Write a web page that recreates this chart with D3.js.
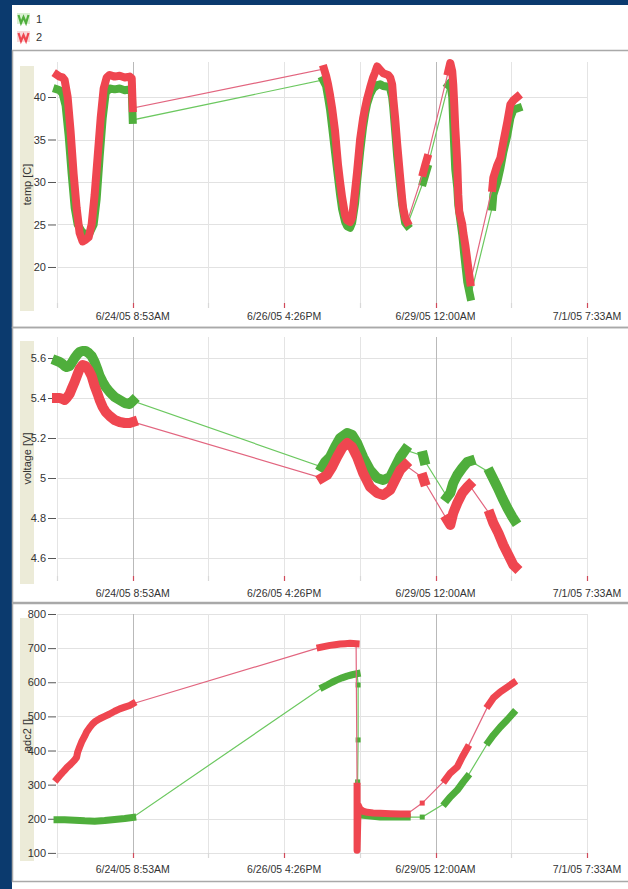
<!DOCTYPE html>
<html>
<head>
<meta charset="utf-8">
<script src="https://cdn.jsdelivr.net/npm/d3@7"></script>
<style>
  body { margin: 0; background: #0b3a6e; }
  text { font-family: "Liberation Sans", Arial, sans-serif; fill: #333; }
</style>
</head>
<body>
<div id="chart"></div>
<script>
// x values are June 2005 days (24.370 = 6/24/05 8:53AM)
const xTickLabels = ["6/24/05 8:53AM", "6/26/05 4:26PM", "6/29/05 12:00AM", "7/1/05 7:33AM"];
const xTickDays = [24.370, 26.685, 29.000, 31.315];
const xStartDay = 23.2125;

const seriesNames = ["1", "2"];

// temp [C]  - each series is a list of runs of [day, value]
const tempTicks = [20, 25, 30, 35, 40];
const temp1 = [
  [[23.213,40.9],[23.252,40.8],[23.298,40.4],[23.344,39.0],[23.390,35.5],[23.436,31.0],[23.482,27.0],[23.528,25.0],[23.589,24.2],[23.650,23.8],[23.711,24.0],[23.773,25.0],[23.819,28.0],[23.865,33.0],[23.911,37.5],[23.957,40.5],[24.018,41.0],[24.094,40.9],[24.171,41.0],[24.248,40.8],[24.324,40.9],[24.355,40.8],[24.370,37.3]],
  [[27.280,42.0],[27.326,41.3],[27.356,40.0],[27.387,38.5],[27.418,36.5],[27.463,33.5],[27.509,30.5],[27.540,28.5],[27.571,26.8],[27.617,25.3],[27.647,24.8],[27.693,24.6],[27.724,25.2],[27.770,27.5],[27.800,30.0],[27.846,33.5],[27.892,36.5],[27.923,38.0],[27.954,39.2],[27.999,40.3],[28.045,41.0],[28.107,41.4],[28.153,41.5],[28.199,41.3],[28.275,41.2],[28.306,41.0],[28.336,40.0],[28.352,38.8],[28.382,36.0],[28.413,33.0],[28.459,29.5],[28.489,27.3],[28.535,25.2],[28.566,24.9]],
  [[28.811,30.0],[28.842,30.8],[28.872,31.6]],
  [[29.194,41.4],[29.225,41.7],[29.255,40.0],[29.270,37.0],[29.286,34.0],[29.301,31.5],[29.332,29.3],[29.347,27.3],[29.408,23.8],[29.439,21.4],[29.485,18.2],[29.531,16.5]],
  [[29.868,27.1],[29.883,28.5],[29.944,30.0],[29.990,31.6],[30.036,33.5],[30.097,35.5],[30.143,37.5],[30.189,38.5],[30.265,38.7]]
];
const temp2 = [
  [[23.213,42.6],[23.252,42.4],[23.298,42.3],[23.329,42.0],[23.375,40.0],[23.420,36.0],[23.466,31.0],[23.512,27.0],[23.558,24.0],[23.604,23.0],[23.650,23.2],[23.696,23.5],[23.742,25.0],[23.788,28.5],[23.834,33.0],[23.880,37.5],[23.926,41.0],[23.972,42.3],[24.018,42.6],[24.094,42.4],[24.171,42.5],[24.248,42.3],[24.324,42.4],[24.355,42.2],[24.370,38.7]],
  [[27.295,43.3],[27.326,42.5],[27.356,41.5],[27.387,40.2],[27.418,38.7],[27.463,36.0],[27.509,32.0],[27.540,30.0],[27.571,28.2],[27.617,26.1],[27.647,25.5],[27.693,25.3],[27.724,25.8],[27.770,29.0],[27.800,31.2],[27.846,35.0],[27.892,37.5],[27.923,38.7],[27.954,39.8],[27.999,41.1],[28.045,42.3],[28.076,42.9],[28.107,43.6],[28.153,43.2],[28.199,42.8],[28.275,42.6],[28.306,42.3],[28.336,41.5],[28.352,39.9],[28.382,37.5],[28.413,34.5],[28.459,30.5],[28.489,28.0],[28.505,26.9],[28.535,25.8],[28.566,25.3]],
  [[28.811,31.1],[28.842,32.0],[28.872,32.8]],
  [[29.194,43.0],[29.225,44.0],[29.255,43.0],[29.270,41.5],[29.286,39.0],[29.301,36.4],[29.316,34.4],[29.332,32.0],[29.347,28.5],[29.362,26.5],[29.408,25.0],[29.424,24.0],[29.454,22.6],[29.485,20.8],[29.500,19.9],[29.531,18.2]],
  [[29.868,29.3],[29.883,30.5],[29.944,32.0],[29.990,32.8],[30.036,34.7],[30.097,37.1],[30.143,39.1],[30.189,39.6],[30.250,40.0]]
];

// voltage [V]
const voltTicks = [4.6, 4.8, 5, 5.2, 5.4, 5.6];
const volt1 = [
  [[23.213,5.585],[23.252,5.58],[23.298,5.57],[23.329,5.56],[23.359,5.555],[23.405,5.56],[23.436,5.575],[23.482,5.60],[23.528,5.62],[23.558,5.63],[23.604,5.635],[23.650,5.635],[23.696,5.625],[23.742,5.61],[23.788,5.58],[23.834,5.54],[23.865,5.51],[23.911,5.48],[23.957,5.455],[24.018,5.43],[24.094,5.405],[24.171,5.39],[24.248,5.375],[24.324,5.37],[24.370,5.385]],
  [[27.264,5.055],[27.310,5.08],[27.387,5.105],[27.463,5.155],[27.540,5.20],[27.647,5.225],[27.724,5.215],[27.800,5.175],[27.892,5.105],[27.999,5.04],[28.107,5.00],[28.199,4.99],[28.306,5.005],[28.382,5.055],[28.459,5.105],[28.535,5.14]],
  [[28.811,5.11],[28.826,5.09]],
  [[29.178,4.905],[29.225,4.925],[29.270,4.975],[29.332,5.015],[29.408,5.05],[29.485,5.08],[29.531,5.085]],
  [[29.837,5.025],[29.868,5.005],[29.944,4.955],[30.021,4.90],[30.097,4.85],[30.174,4.805],[30.204,4.79]]
];
const volt2 = [
  [[23.213,5.40],[23.252,5.40],[23.298,5.395],[23.329,5.39],[23.359,5.40],[23.405,5.42],[23.436,5.445],[23.482,5.48],[23.528,5.52],[23.558,5.545],[23.604,5.565],[23.650,5.56],[23.696,5.54],[23.742,5.51],[23.788,5.46],[23.834,5.42],[23.865,5.39],[23.911,5.355],[23.957,5.33],[24.018,5.31],[24.094,5.29],[24.171,5.28],[24.248,5.275],[24.324,5.275],[24.370,5.28]],
  [[27.264,5.00],[27.341,5.015],[27.418,5.055],[27.494,5.105],[27.571,5.15],[27.647,5.175],[27.724,5.155],[27.800,5.105],[27.892,5.025],[27.999,4.955],[28.107,4.925],[28.199,4.915],[28.306,4.94],[28.382,4.99],[28.459,5.04],[28.535,5.065]],
  [[28.811,5.00],[28.826,4.985]],
  [[29.178,4.79],[29.225,4.765],[29.270,4.825],[29.332,4.875],[29.408,4.925],[29.485,4.955],[29.515,4.965]],
  [[29.837,4.815],[29.883,4.775],[29.960,4.725],[30.036,4.665],[30.113,4.615],[30.189,4.565],[30.220,4.555]]
];

// adc2 []
const adcTicks = [100, 200, 300, 400, 500, 600, 700, 800];
const adc1 = [
  [[23.213,197],[23.329,197],[23.482,196],[23.635,194],[23.788,193],[23.941,195],[24.094,198],[24.248,201],[24.370,204]],
  [[27.280,586],[27.341,592],[27.418,600],[27.494,607],[27.571,613],[27.647,618],[27.724,622],[27.800,625]],
  [[27.816,592]],
  [[27.816,431]],
  [[27.808,308]],
  [[27.816,212],[27.892,210],[28.153,205],[28.566,205]],
  [[28.796,205]],
  [[29.148,246],[29.225,264],[29.332,284],[29.424,308],[29.485,323]],
  [[29.807,425],[29.883,445],[29.990,469],[30.097,490],[30.189,510]]
];
const adc2 = [
  [[23.213,317],[23.252,326],[23.298,336],[23.329,342],[23.359,349],[23.405,357],[23.451,366],[23.482,372],[23.512,380],[23.528,395],[23.558,410],[23.589,425],[23.635,442],[23.665,454],[23.711,467],[23.757,478],[23.803,486],[23.865,493],[23.941,500],[24.018,507],[24.094,515],[24.171,522],[24.248,527],[24.324,532],[24.370,537]],
  [[27.234,702],[27.310,705],[27.387,708],[27.463,710],[27.540,712],[27.617,713],[27.693,714],[27.785,713]],
  [[27.800,295],[27.800,108],[27.816,240],[27.846,228],[27.892,222],[27.954,219],[28.045,217],[28.153,216],[28.306,215],[28.459,214],[28.566,214]],
  [[28.796,246]],
  [[29.148,314],[29.225,334],[29.332,352],[29.408,381],[29.485,407]],
  [[29.807,533],[29.883,554],[29.990,572],[30.097,586],[30.189,598]]
];

const dayToDate = d => new Date(Date.UTC(2005, 5, 1) + (d - 1) * 864e5);

const width = 628;
const height = 889;
const plotLeft = 57;
const plotRight = 587;
const colors = {
  dense: ["#4fae3c", "#ef4650"],
  thin: ["#6cc860", "#e2657f"],
  icon: ["#d9f0d2", "#f8d9da"]
};

const panels = [
  { label: "temp [C]", ticks: tempTicks, domain: [15.29, 44.12], top: 62, bottom: 307,
    frame: [50, 327], labelY: 320, thick: 8, series: [temp1, temp2] },
  { label: "voltage [V]", ticks: voltTicks, domain: [4.49, 5.705], top: 337, bottom: 580,
    frame: [327, 602], labelY: 597, thick: 10, series: [volt1, volt2] },
  { label: "adc2 []", ticks: adcTicks, domain: [88, 800], top: 614, bottom: 857,
    frame: [603, 881], labelY: 873, thick: 7, series: [adc1, adc2] }
];

const svg = d3.select("#chart")
  .append("svg")
  .attr("width", width)
  .attr("height", height);

svg.append("rect").attr("width", width).attr("height", height).attr("fill", "#0b3a6e");
svg.append("rect").attr("x", 12).attr("y", 5).attr("width", width - 12).attr("height", height - 5).attr("fill", "#ffffff");

const x = d3.scaleUtc()
  .domain([dayToDate(xStartDay), dayToDate(xTickDays[xTickDays.length - 1])])
  .range([plotLeft, plotRight]);

const gridDays = d3.range(8).map(i => xStartDay + i * (xTickDays[3] - xStartDay) / 7);

// legend
seriesNames.forEach((name, i) => {
  const g = svg.append("g").attr("transform", `translate(17,${13 + i * 18})`);
  g.append("rect").attr("width", 13).attr("height", 11).attr("fill", colors.icon[i]);
  g.append("polyline")
    .attr("points", "1.5,2 4,10 6.5,4 9,10 11.5,2")
    .attr("fill", "none").attr("stroke", colors.dense[i]).attr("stroke-width", 2.2);
  g.append("text").attr("x", 19).attr("y", 10).attr("font-size", 11).text(name);
});

panels.forEach(p => {
  const y = d3.scaleLinear().domain(p.domain).range([p.bottom, p.top]);
  const g = svg.append("g");

  // frame
  g.append("rect")
    .attr("x", 12.5).attr("y", p.frame[0] + 0.5)
    .attr("width", width).attr("height", p.frame[1] - p.frame[0])
    .attr("fill", "none").attr("stroke", "#a9a9a9").attr("stroke-width", 1.5);

  // y label strip
  g.append("rect")
    .attr("x", 20).attr("y", p.top + 4)
    .attr("width", 14).attr("height", p.bottom - p.top)
    .attr("fill", "#ecebd8");
  g.append("text")
    .attr("transform", `translate(31,${(p.top + p.bottom) / 2}) rotate(-90)`)
    .attr("text-anchor", "middle")
    .attr("font-size", 11)
    .text(p.label);

  // horizontal grid
  g.selectAll(".hgrid").data(p.ticks).enter().append("line")
    .attr("x1", plotLeft).attr("x2", plotRight)
    .attr("y1", d => Math.round(y(d)) + 0.5).attr("y2", d => Math.round(y(d)) + 0.5)
    .attr("stroke", "#e2e2e2");

  // vertical grid
  g.selectAll(".vgrid").data(gridDays).enter().append("line")
    .attr("x1", d => Math.round(x(dayToDate(d))) + 0.5)
    .attr("x2", d => Math.round(x(dayToDate(d))) + 0.5)
    .attr("y1", p.top).attr("y2", p.bottom)
    .attr("stroke", (d, i) => (i === 1 || i === 5) ? "#b9b9b9" : "#e4e4e4");

  // tick marks at bottom
  g.selectAll(".btick").data(gridDays).enter().append("line")
    .attr("x1", d => Math.round(x(dayToDate(d))) + 0.5)
    .attr("x2", d => Math.round(x(dayToDate(d))) + 0.5)
    .attr("y1", p.bottom - 4).attr("y2", p.bottom + 1)
    .attr("stroke", (d, i) => i % 2 === 1 ? "#d04a5a" : "#d8d8d8")
    .attr("stroke-width", 1.2);

  // y axis
  const yAxis = d3.axisLeft(y).tickValues(p.ticks).tickSize(8).tickPadding(2)
    .tickFormat(d3.format("~g"));
  const ya = g.append("g").attr("transform", `translate(${plotLeft - 1},0)`).call(yAxis);
  ya.select(".domain").remove();
  ya.selectAll(".tick line").attr("stroke", "#555");
  ya.selectAll(".tick text").attr("font-size", 11).attr("fill", "#333")
    .attr("font-family", "Liberation Sans, Arial, sans-serif");

  // x labels
  g.selectAll(".xlab").data(xTickLabels).enter().append("text")
    .attr("x", (d, i) => x(dayToDate(xTickDays[i])))
    .attr("y", p.labelY)
    .attr("text-anchor", "middle")
    .attr("font-size", 10.5)
    .text(d => d);

  // series
  const line = d3.line()
    .x(d => x(dayToDate(d[0])))
    .y(d => y(d[1]));

  p.series.forEach((runs, si) => {
    const sg = g.append("g");
    sg.append("path")
      .attr("d", line(runs.flat()))
      .attr("fill", "none")
      .attr("stroke", colors.thin[si])
      .attr("stroke-width", 1.2);
    sg.selectAll(".run").data(runs.filter(r => r.length > 1)).enter().append("path")
      .attr("d", r => line(r))
      .attr("fill", "none")
      .attr("stroke", colors.dense[si])
      .attr("stroke-width", p.thick)
      .attr("stroke-linejoin", "round")
      .attr("stroke-linecap", "square");
    sg.selectAll(".mark").data(runs.filter(r => r.length === 1).map(r => r[0])).enter().append("rect")
      .attr("x", d => x(dayToDate(d[0])) - 2.5)
      .attr("y", d => y(d[1]) - 2.5)
      .attr("width", 5).attr("height", 5)
      .attr("fill", colors.dense[si]);
  });
});
</script>
</body>
</html>
